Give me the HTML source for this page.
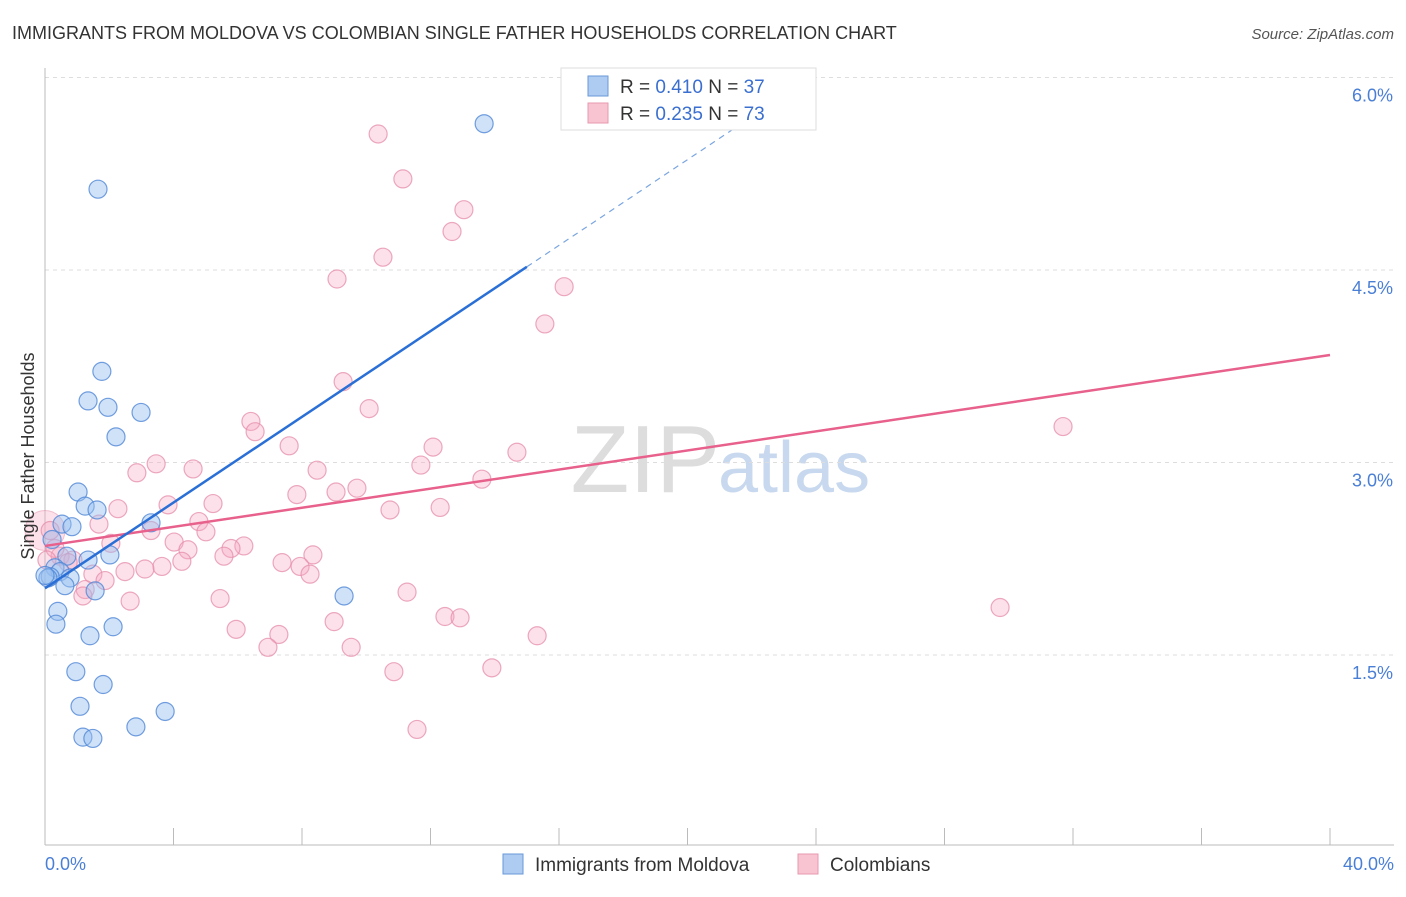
<!DOCTYPE html>
<html><head><meta charset="utf-8"><style>
body{margin:0;background:#fff;font-family:"Liberation Sans",sans-serif}
svg text{font-family:"Liberation Sans",sans-serif}
</style></head><body>
<svg width="1406" height="892">
<text x="12" y="39" font-size="18" fill="#333">IMMIGRANTS FROM MOLDOVA VS COLOMBIAN SINGLE FATHER HOUSEHOLDS CORRELATION CHART</text>
<text x="1394" y="39" font-size="15" fill="#555" font-style="italic" text-anchor="end">Source: ZipAtlas.com</text>
<text x="720" y="492" font-size="96" fill="#ddd" text-anchor="end" font-family="Liberation Serif">ZIP</text>
<text x="718" y="492" font-size="72" fill="#c8d8ee">atlas</text>
<g id="grid"></g><g id="axes"></g><g id="marks"></g>
<text transform="translate(34,456) rotate(-90)" font-size="18" fill="#333" text-anchor="middle">Single Father Households</text>
<g>
<rect x="561" y="68" width="255" height="62" fill="#fff" stroke="#ddd"/>
<rect x="588" y="76" width="20" height="20" fill="#aecbf2" stroke="#6a9ad8"/>
<text x="620" y="93" font-size="19" fill="#333">R = <tspan fill="#3a6fd0">0.410</tspan>    N = <tspan fill="#3a6fd0">37</tspan></text>
<rect x="588" y="103" width="20" height="20" fill="#f8c4d2" stroke="#e898b0"/>
<text x="620" y="120" font-size="19" fill="#333">R = <tspan fill="#3a6fd0">0.235</tspan>    N = <tspan fill="#3a6fd0">73</tspan></text>
</g>
<g>
<rect x="503" y="854" width="20" height="20" fill="#aecbf2" stroke="#6a9ad8"/>
<text x="535" y="871" font-size="19" fill="#333">Immigrants from Moldova</text>
<rect x="798" y="854" width="20" height="20" fill="#f8c4d2" stroke="#e898b0"/>
<text x="830" y="871" font-size="19" fill="#333">Colombians</text>
</g>
</svg>
<script>
const blueX=[13.67,1.65,1.77,1.34,1.96,2.99,2.21,1.03,1.25,1.62,0.53,0.84,3.30,0.22,0.68,1.34,2.02,0.31,0.47,0.78,0.16,0.62,1.56,0.40,0.34,2.12,1.40,9.31,0.96,1.81,1.09,3.74,2.83,1.18,1.49,0.09,0.0];
const blueY=[5.64,5.13,3.71,3.48,3.43,3.39,3.20,2.77,2.66,2.63,2.52,2.50,2.53,2.40,2.27,2.24,2.28,2.18,2.15,2.10,2.11,2.04,2.00,1.84,1.74,1.72,1.65,1.96,1.37,1.27,1.10,1.06,0.94,0.86,0.85,2.10,2.12];
const pinkX=[10.37,11.14,13.04,12.67,10.52,9.09,16.16,15.56,9.28,10.09,6.41,6.54,7.60,12.08,14.69,3.46,11.70,4.61,8.47,2.86,13.60,9.71,9.06,7.84,5.23,3.83,12.30,10.74,2.27,1.68,4.79,3.30,5.01,2.05,4.02,6.19,5.79,4.45,5.57,8.34,0.47,0.87,4.26,3.64,3.11,7.38,7.94,8.25,2.49,1.49,1.87,0.72,1.25,1.18,2.65,5.45,11.27,29.73,31.69,9.00,12.45,12.92,5.95,7.28,15.32,6.94,9.53,13.91,10.86,11.58,0.16,0.31,0.06];
const pinkY=[5.56,5.21,4.97,4.80,4.60,4.43,4.37,4.08,3.63,3.42,3.32,3.24,3.13,3.12,3.08,2.99,2.98,2.95,2.94,2.92,2.87,2.80,2.77,2.75,2.68,2.67,2.65,2.63,2.64,2.52,2.54,2.47,2.46,2.37,2.38,2.35,2.33,2.32,2.27,2.28,2.27,2.24,2.23,2.19,2.17,2.22,2.19,2.13,2.15,2.13,2.08,2.22,2.01,1.96,1.92,1.94,1.99,1.87,3.28,1.76,1.80,1.79,1.70,1.66,1.65,1.56,1.56,1.40,1.37,0.92,2.47,2.33,2.24];
const yTicks=[1.5,3.0,4.5,6.0];
const xTickLabels=["0.0%","40.0%"];
const blueFit=[2.02,0.167], pinkFit=[2.35,0.0372];
const X=v=>45+v/40*1285, Y=v=>847.5-v*128.33;
const NS="http://www.w3.org/2000/svg";
function mk(p,t,a){const e=document.createElementNS(NS,t);for(const k in a)e.setAttribute(k,a[k]);p.appendChild(e);return e;}
const grid=document.getElementById('grid'),axes=document.getElementById('axes'),marks=document.getElementById('marks');
yTicks.forEach(t=>{
 const l=mk(grid,'line',{x1:45,x2:1394,y1:Y(t),y2:Y(t),stroke:'#ddd','stroke-dasharray':'4,4'});
 
 
 const tx=mk(axes,'text',{x:1393,y:Y(t)+24,'font-size':18,fill:'#4a7fd6','text-anchor':'end'});
 tx.textContent=t.toFixed(1)+'%';
 
 
});
const ax=mk(axes,'line',{x1:45,x2:45,y1:68,y2:845,stroke:'#bbb'});


const bx=mk(axes,'line',{x1:45,x2:1394,y1:845,y2:845,stroke:'#bbb'});


for(let i=0;i<=10;i++){const t=mk(axes,'line',{x1:X(i*4),x2:X(i*4),y1:828,y2:845,stroke:'#bbb'});
 
 }
[[0,'start',45],[40,'end',1394]].forEach((d,i)=>{const t=mk(axes,'text',{x:d[2],y:870,'font-size':18,fill:'#4a7fd6','text-anchor':d[1]});
 t.textContent=xTickLabels[i];
 
 });
const big=mk(marks,'circle',{cx:X(0),cy:Y(2.47),r:20,fill:'rgba(245,170,195,0.35)',stroke:'rgba(230,140,170,0.5)'});


pinkX.forEach((x,i)=>{const c=mk(marks,'circle',{cx:X(x),cy:Y(pinkY[i]),r:9,fill:'rgba(245,170,195,0.35)',stroke:'rgba(230,140,170,0.75)','stroke-width':1.2});
 
 });
blueX.forEach((x,i)=>{const c=mk(marks,'circle',{cx:X(x),cy:Y(blueY[i]),r:9,fill:'rgba(150,190,240,0.45)',stroke:'rgba(80,135,215,0.8)','stroke-width':1.2});
 
 });
const pl=mk(marks,'line',{x1:X(0),y1:Y(pinkFit[0]),x2:X(40),y2:Y(pinkFit[0]+40*pinkFit[1]),stroke:'#e8608c','stroke-width':2.5});


const bl=mk(marks,'line',{x1:X(0),y1:Y(blueFit[0]),x2:X(15),y2:Y(blueFit[0]+15*blueFit[1]),stroke:'#2a6fd6','stroke-width':2.5});


const bd=mk(marks,'line',{x1:X(15),y1:Y(blueFit[0]+15*blueFit[1]),x2:X(22.3),y2:Y(blueFit[0]+22.3*blueFit[1]),stroke:'#7aa5e0','stroke-width':1.2,'stroke-dasharray':'6,5'});


</script>
</body></html>
